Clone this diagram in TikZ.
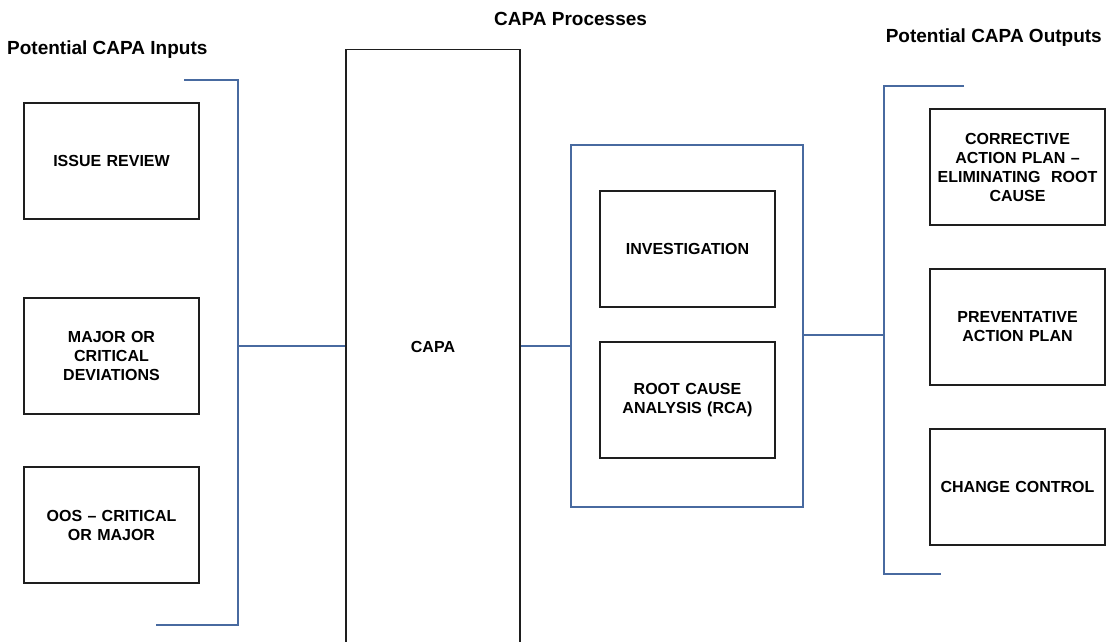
\documentclass[tikz,border=0pt]{standalone}
\usepackage{fontspec}
\setmainfont{Liberation Sans}
\definecolor{linkblue}{RGB}{72,106,160}
\definecolor{boxline}{RGB}{30,30,30}
\tikzset{
  every node/.style={font=\bfseries\fontsize{16}{19}\selectfont},
  itembox/.style={draw=boxline, line width=1.1pt, minimum width=175pt, minimum height=116pt,
    inner sep=0pt, align=center, text width=170pt},
  groupbox/.style={draw=linkblue, line width=1.2pt, inner sep=0pt},
  link/.style={draw=linkblue, line width=1.2pt},
  heading/.style={font=\bfseries\fontsize{19}{22}\selectfont, inner sep=0pt}
}
\begin{document}
\begin{tikzpicture}[x=1pt, y=-1pt]
  \useasboundingbox (0,0) rectangle (1110,641);

  % headings
  \node[heading, anchor=base west] (hin)  at (7,54)    {Potential CAPA Inputs};
  \node[heading, anchor=base west] (hpro) at (494,25)  {CAPA Processes};
  \node[heading, anchor=base east] (hout) at (1102,42) {Potential CAPA Outputs};

  % inputs
  \node[itembox] (issue) at (111.5,161) {ISSUE REVIEW};
  \node[itembox] (major) at (111.5,356) {MAJOR OR\\CRITICAL\\DEVIATIONS};
  \node[itembox] (oos)   at (111.5,525) {OOS -- CRITICAL\\OR MAJOR};

  % bracket gathering the inputs
  \coordinate (lt)  at (184,80);
  \coordinate (ltc) at (238,80);
  \coordinate (lbc) at (238,625);
  \coordinate (lb)  at (156,625);
  \coordinate (lmid) at (238,346);
  \draw[link] (lt) -- (ltc) -- (lbc) -- (lb);

  % central CAPA column, running off the lower edge
  \node[draw=boxline, line width=1.1pt, minimum width=174pt, minimum height=595pt,
        inner sep=0pt] (capa) at (433,347) {CAPA};

  % process group
  \node[groupbox, minimum width=232pt, minimum height=362pt] (grp) at (687,326) {};
  \node[itembox] (inv) at (687.5,249) {INVESTIGATION};
  \node[itembox] (rca) at (687.5,400) {ROOT CAUSE\\ANALYSIS (RCA)};

  % outputs
  \node[itembox] (cap)  at (1017.5,167) {CORRECTIVE\\ACTION PLAN --\\ELIMINATING\ \ ROOT\\CAUSE};
  \node[itembox] (pap)  at (1017.5,327) {PREVENTATIVE\\ACTION PLAN};
  \node[itembox] (chg)  at (1017.5,487) {CHANGE CONTROL};

  % bracket gathering the outputs
  \coordinate (rt)  at (964,86);
  \coordinate (rtc) at (884,86);
  \coordinate (rbc) at (884,574);
  \coordinate (rb)  at (941,574);
  \coordinate (rmid) at (884,335);
  \draw[link] (rt) -- (rtc) -- (rbc) -- (rb);

  % connectors
  \draw[link] (lmid) -- (lmid -| capa.west);
  \draw[link] (capa.east |- lmid) -- (lmid -| grp.west);
  \draw[link] (rmid -| grp.east) -- (rmid);
\end{tikzpicture}
\end{document}
